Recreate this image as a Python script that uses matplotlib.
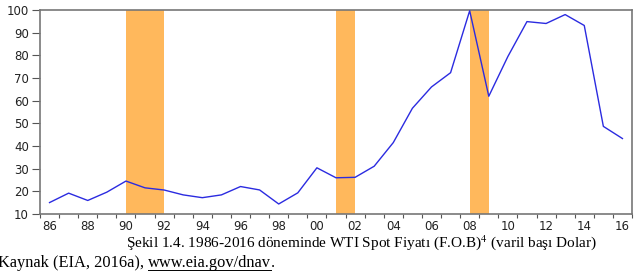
import matplotlib
matplotlib.use("Agg")
import matplotlib.pyplot as plt
from matplotlib.lines import Line2D

# WTI spot price, annual average (USD per barrel)
years = list(range(1986, 2017))
price = [15.05, 19.20, 15.97, 19.64, 24.53, 21.54, 20.58, 18.43, 17.20, 18.43,
         22.12, 20.61, 14.42, 19.34, 30.38, 25.98, 26.18, 31.08, 41.51, 56.64,
         66.05, 72.34, 99.67, 61.95, 79.48, 94.88, 94.05, 97.98, 93.17, 48.66,
         43.29]

# shaded periods (start, end)
bands = [(1990, 1992), (2001, 2002), (2008, 2009)]

yticks = list(range(10, 101, 10))
label_years = list(range(1986, 2017, 2))

W, H = 639, 275
fig = plt.figure(figsize=(W / 100, H / 100), dpi=100)
ax = fig.add_axes([40 / W, 61 / H, 592 / W, 204 / H])

for a, b in bands:
    ax.axvspan(a, b, color="#FFB85C", lw=0, zorder=1)

ax.plot(years, price, color="#2B2BE0", lw=1.0, zorder=3)

ax.set_xlim(1985.5, 2016.5)
ax.set_ylim(10, 100)

# ticks at year boundaries, labels in the middle of the year
ax.set_xticks([y - 0.5 for y in years] + [2016.5])
ax.set_xticklabels([])
ax.set_xticks(label_years, minor=True)
ax.set_xticklabels([f"{y % 100:02d}" for y in label_years], minor=True)
ax.tick_params(axis="x", which="major", direction="out", length=3,
               width=0.8, color="#555555")
ax.tick_params(axis="x", which="minor", length=0, pad=4, labelsize=8.5,
               labelcolor="#222222")

ax.set_yticks(yticks)
ax.tick_params(axis="y", direction="out", length=6, width=0.8,
               color="#555555", labelsize=8.5, labelcolor="#222222", pad=2)

for s in ax.spines.values():
    s.set_color("#777777")
    s.set_linewidth(1.2)

plt.rcParams["mathtext.fontset"] = "stix"
fs = 11.8
fig.text(597 / W, 1 - 243 / H,
         "Şekil 1.4. 1986-2016 döneminde WTI Spot Fiyatı (F.O.B)$^{4}$ (varil başı Dolar)",
         ha="right", va="center", fontsize=11, family="Liberation Serif")

# source line with underlined url
ys = 1 - 263 / H
t1 = fig.text(-2 / W, ys, "Kaynak (EIA, 2016a), ",
              ha="left", va="center", fontsize=fs, family="Liberation Serif")
fig.canvas.draw()
r = fig.canvas.get_renderer()
bb = t1.get_window_extent(r)
t2 = fig.text(bb.x1 / W, ys, "www.eia.gov/dnav",
              ha="left", va="center", fontsize=fs, family="Liberation Serif")
bb2 = t2.get_window_extent(r)
fig.text(bb2.x1 / W, ys, ".",
         ha="left", va="center", fontsize=fs, family="Liberation Serif")
uy = (bb2.y0 + 1) / H
fig.add_artist(Line2D([bb2.x0 / W, bb2.x1 / W], [uy, uy],
                      color="black", lw=0.7, transform=fig.transFigure))

fig.savefig("out.png", dpi=100)
